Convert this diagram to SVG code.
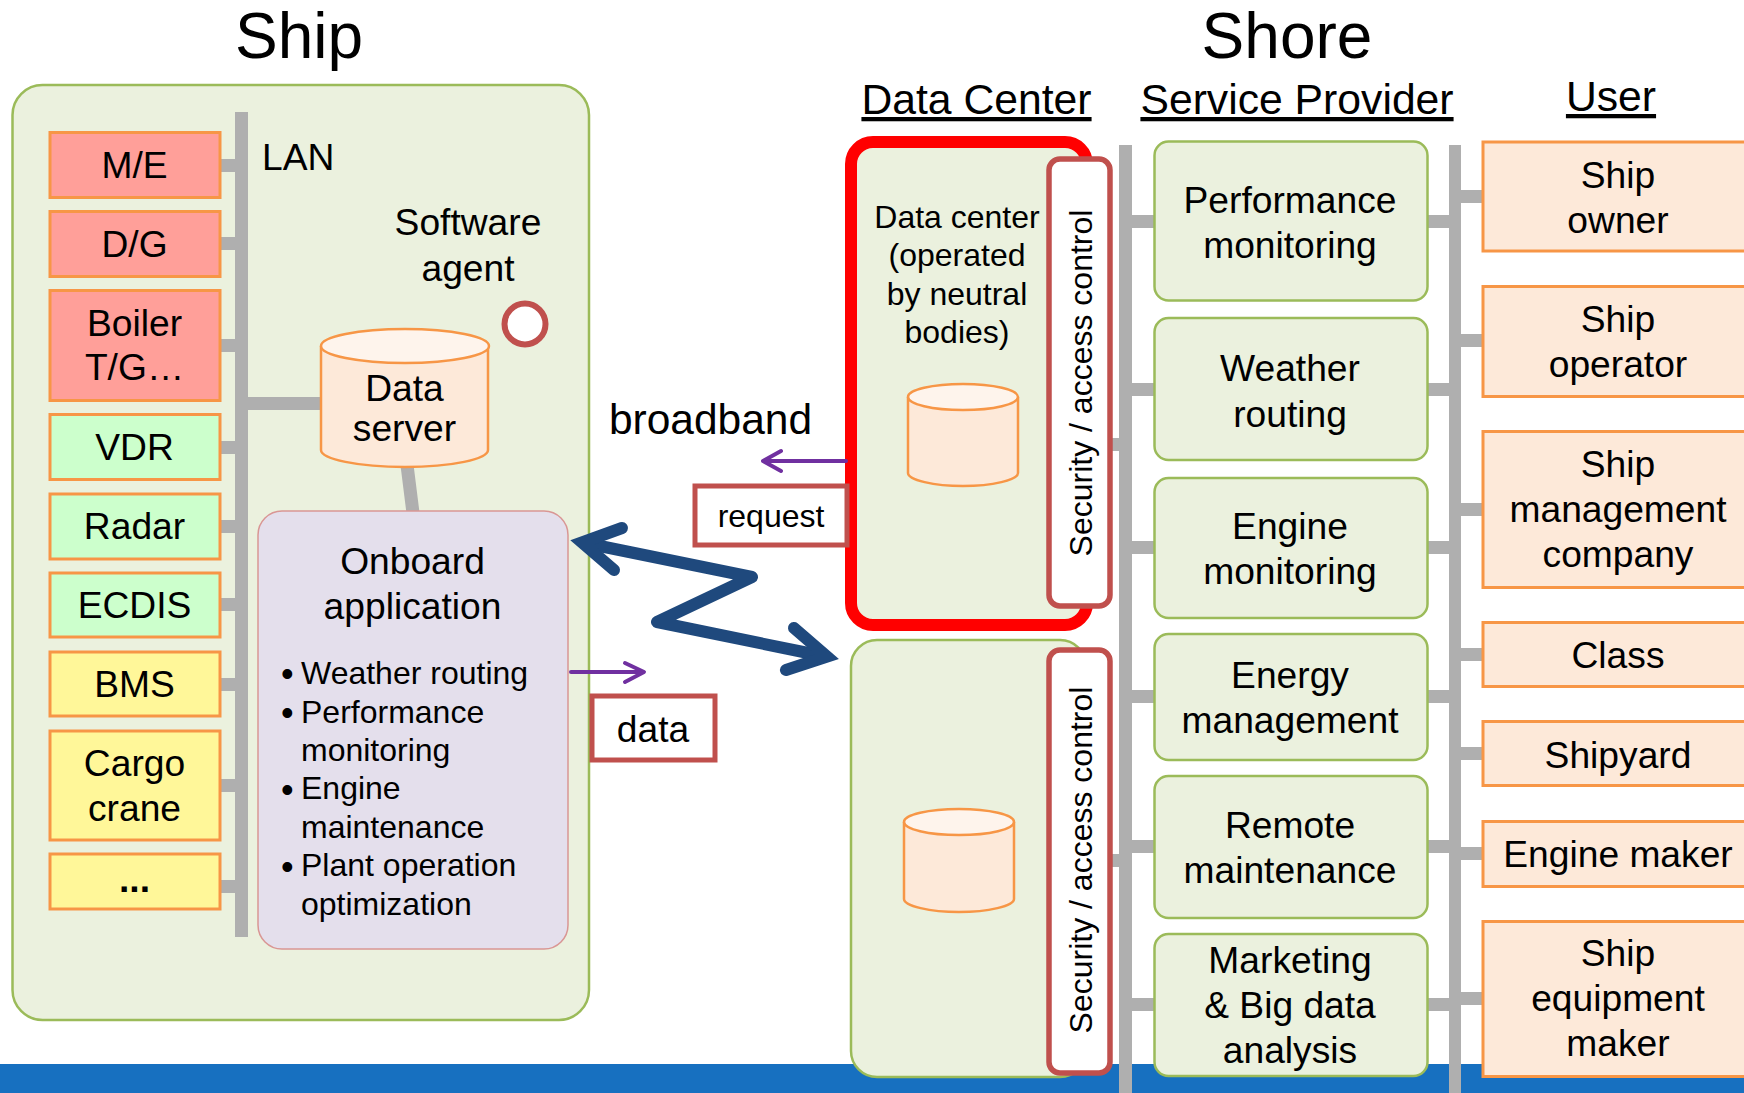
<svg xmlns="http://www.w3.org/2000/svg" width="1744" height="1093" viewBox="0 0 1744 1093">
<style>
text{font-family:"Liberation Sans",Arial,sans-serif;fill:#000;text-anchor:middle}
.t37{font-size:37.2px}.t32{font-size:32px}.h42{font-size:42.7px;text-decoration:underline}.big{font-size:64px}
.s{text-anchor:start}
.dot{font-size:36px}
.box{stroke:#f79646;stroke-width:3}
.red{fill:#ff9f99}.grn{fill:#ccffcc}.yel{fill:#fff799}.usr{fill:#fde9d9}
.svc{fill:#ebf1de;stroke:#9bbb59;stroke-width:2.5}
.sec{fill:#fff;stroke:#c0504d;stroke-width:5.5}
.lab{fill:#fff;stroke:#c0504d;stroke-width:5}
.bus{fill:#afafaf}
.cyl{fill:#fde9d9;stroke:#f79646;stroke-width:2.5}
.cyt{fill:#fef4ec;stroke:#f79646;stroke-width:2.5}
.pur{fill:none;stroke:#7030a0;stroke-width:4;stroke-linecap:round;stroke-linejoin:round}
.zig{fill:none;stroke:#1f497d;stroke-width:12;stroke-linecap:round;stroke-linejoin:round}
.hd{fill:none;stroke:#1f497d;stroke-width:12;stroke-linecap:round;stroke-linejoin:miter;stroke-miterlimit:6}
</style>
<rect x="0" y="1064" width="1744" height="29" fill="#1770c0"/>
<text class="big" x="299" y="58">Ship</text>
<text class="big" x="1287" y="58">Shore</text>
<text class="h42" x="976.500" y="114">Data Center</text>
<text class="h42" x="1297" y="114">Service Provider</text>
<text class="h42" x="1611" y="111">User</text>
<g id="ship"><rect class="svc" x="12.500" y="85" width="576.500" height="935" rx="30"/></g>
<g id="connectors">
<rect class="bus" x="235" y="112" width="13" height="825"/>
<rect class="bus" x="220" y="159" width="16" height="13"/>
<rect class="bus" x="220" y="237" width="16" height="13"/>
<rect class="bus" x="220" y="339" width="16" height="13"/>
<rect class="bus" x="220" y="441" width="16" height="13"/>
<rect class="bus" x="220" y="520" width="16" height="13"/>
<rect class="bus" x="220" y="598" width="16" height="13"/>
<rect class="bus" x="220" y="678" width="16" height="13"/>
<rect class="bus" x="220" y="779" width="16" height="13"/>
<rect class="bus" x="220" y="880" width="16" height="13"/>
<rect class="bus" x="247" y="397" width="75" height="13"/>
<path d="M407 465L413 513" stroke="#afafaf" stroke-width="13" fill="none"/>
<rect class="bus" x="1119" y="145" width="13" height="948"/>
<rect class="bus" x="1449" y="145" width="12" height="948"/>
<rect class="bus" x="1131" y="215" width="24" height="13"/>
<rect class="bus" x="1131" y="383" width="24" height="13"/>
<rect class="bus" x="1131" y="541" width="24" height="13"/>
<rect class="bus" x="1131" y="690" width="24" height="13"/>
<rect class="bus" x="1131" y="840" width="24" height="13"/>
<rect class="bus" x="1131" y="998" width="24" height="13"/>
<rect class="bus" x="1427" y="215" width="23" height="13"/>
<rect class="bus" x="1427" y="383" width="23" height="13"/>
<rect class="bus" x="1427" y="541" width="23" height="13"/>
<rect class="bus" x="1427" y="690" width="23" height="13"/>
<rect class="bus" x="1427" y="840" width="23" height="13"/>
<rect class="bus" x="1427" y="998" width="23" height="13"/>
<rect class="bus" x="1460" y="190" width="23" height="13"/>
<rect class="bus" x="1460" y="334" width="23" height="13"/>
<rect class="bus" x="1460" y="503" width="23" height="13"/>
<rect class="bus" x="1460" y="648" width="23" height="13"/>
<rect class="bus" x="1460" y="747" width="23" height="13"/>
<rect class="bus" x="1460" y="847" width="23" height="13"/>
<rect class="bus" x="1460" y="992" width="23" height="13"/>
<rect class="bus" x="1017" y="438" width="32" height="13"/>
<rect class="bus" x="1108" y="438" width="12" height="13"/>
<rect class="bus" x="1013" y="854" width="36" height="13"/>
<rect class="bus" x="1108" y="854" width="12" height="13"/>
</g>
<g id="me"><rect class="box red" x="50" y="132.500" width="170" height="65"/><text class="t37" x="134.500" y="178">M/E</text></g>
<g id="dg"><rect class="box red" x="50" y="211.500" width="170" height="65"/><text class="t37" x="134.500" y="257">D/G</text></g>
<g id="boiler"><rect class="box red" x="50" y="290.500" width="170" height="110"/><text class="t37" x="134.500" y="336">Boiler</text><text class="t37" x="134.500" y="380">T/G…</text></g>
<g id="vdr"><rect class="box grn" x="50" y="414.500" width="170" height="65"/><text class="t37" x="134.500" y="460">VDR</text></g>
<g id="radar"><rect class="box grn" x="50" y="494" width="170" height="65"/><text class="t37" x="134.500" y="539">Radar</text></g>
<g id="ecdis"><rect class="box grn" x="50" y="573" width="170" height="64"/><text class="t37" x="134.500" y="618">ECDIS</text></g>
<g id="bms"><rect class="box yel" x="50" y="652" width="170" height="64"/><text class="t37" x="134.500" y="697">BMS</text></g>
<g id="cargo"><rect class="box yel" x="50" y="731" width="170" height="109"/><text class="t37" x="134.500" y="776">Cargo</text><text class="t37" x="134.500" y="821">crane</text></g>
<g id="more"><rect class="box yel" x="50" y="854" width="170" height="55"/><text class="t37" x="134.500" y="892" font-weight="bold">...</text></g>
<text class="t37 s" x="262" y="170">LAN</text>
<g id="agent"><text class="t37" x="468" y="235">Software</text><text class="t37" x="468" y="281">agent</text><circle cx="525" cy="324" r="20.500" fill="#fff" stroke="#c0504d" stroke-width="6"/></g>
<g id="dataserver"><path class="cyl" d="M321 346V450C321 459 358 467 405 467S488 459 488 450V346"/><ellipse class="cyt" cx="405" cy="346" rx="84" ry="17"/><text class="t37" x="404.500" y="401">Data</text><text class="t37" x="404.500" y="441">server</text></g>
<g id="onboard"><rect x="258" y="511" width="310" height="438" rx="24" fill="#e4dfec" stroke="#d99694" stroke-width="1.500"/>
<text class="t37" x="412.500" y="574">Onboard</text><text class="t37" x="412.500" y="619">application</text>
<text class="dot s" x="281" y="686">•</text><text class="t32 s" x="301" y="684">Weather routing</text>
<text class="dot s" x="281" y="725">•</text><text class="t32 s" x="301" y="723">Performance</text>
<text class="t32 s" x="301" y="761">monitoring</text>
<text class="dot s" x="281" y="802">•</text><text class="t32 s" x="301" y="799">Engine</text>
<text class="t32 s" x="301" y="838">maintenance</text>
<text class="dot s" x="281" y="879">•</text><text class="t32 s" x="301" y="876">Plant operation</text>
<text class="t32 s" x="301" y="915">optimization</text></g>
<g id="dc1"><rect x="851" y="142" width="236" height="483" rx="22" fill="#ebf1de" stroke="#ff0000" stroke-width="12"/>
<text class="t32" x="957" y="228">Data center</text><text class="t32" x="957" y="266">(operated</text><text class="t32" x="957" y="305">by neutral</text><text class="t32" x="957" y="343">bodies)</text>
<path class="cyl" d="M908 397V473C908 480 934 486 963 486S1018 480 1018 473V397"/><ellipse class="cyt" cx="963" cy="397" rx="55" ry="13"/></g>
<g id="sec1"><rect class="sec" x="1049" y="159" width="61" height="447" rx="11"/><text class="t32" transform="translate(1092 383) rotate(-90)">Security / access control</text></g>
<g id="dc2"><rect class="svc" x="851" y="640" width="235" height="437" rx="26"/>
<path class="cyl" d="M904 822V899C904 906 930 912 959 912S1014 906 1014 899V822"/><ellipse class="cyt" cx="959" cy="822" rx="55" ry="13"/></g>
<g id="sec2"><rect class="sec" x="1049" y="650" width="61" height="423" rx="11"/><text class="t32" transform="translate(1092 860) rotate(-90)">Security / access control</text></g>
<g id="perf"><rect class="svc" x="1154.500" y="141.500" width="273" height="159" rx="14"/><text class="t37" x="1290" y="213">Performance</text><text class="t37" x="1290" y="258">monitoring</text></g>
<g id="weather"><rect class="svc" x="1154.500" y="318" width="273" height="142" rx="14"/><text class="t37" x="1290" y="381">Weather</text><text class="t37" x="1290" y="427">routing</text></g>
<g id="engine"><rect class="svc" x="1154.500" y="478" width="273" height="140" rx="14"/><text class="t37" x="1290" y="539">Engine</text><text class="t37" x="1290" y="584">monitoring</text></g>
<g id="energy"><rect class="svc" x="1154.500" y="634" width="273" height="126" rx="14"/><text class="t37" x="1290" y="688">Energy</text><text class="t37" x="1290" y="733">management</text></g>
<g id="remote"><rect class="svc" x="1154.500" y="776" width="273" height="142" rx="14"/><text class="t37" x="1290" y="838">Remote</text><text class="t37" x="1290" y="883">maintenance</text></g>
<g id="marketing"><rect class="svc" x="1154.500" y="934" width="273" height="142" rx="14"/><text class="t37" x="1290" y="973">Marketing</text><text class="t37" x="1290" y="1018">&amp; Big data</text><text class="t37" x="1290" y="1063">analysis</text></g>
<g id="u1"><rect class="box usr" x="1483" y="142" width="270" height="109"/><text class="t37" x="1618" y="188">Ship</text><text class="t37" x="1618" y="233">owner</text></g>
<g id="u2"><rect class="box usr" x="1483" y="286.500" width="270" height="110"/><text class="t37" x="1618" y="332">Ship</text><text class="t37" x="1618" y="377">operator</text></g>
<g id="u3"><rect class="box usr" x="1483" y="431.500" width="270" height="156"/><text class="t37" x="1618" y="477">Ship</text><text class="t37" x="1618" y="522">management</text><text class="t37" x="1618" y="567">company</text></g>
<g id="u4"><rect class="box usr" x="1483" y="622.500" width="270" height="64"/><text class="t37" x="1618" y="668">Class</text></g>
<g id="u5"><rect class="box usr" x="1483" y="721.500" width="270" height="64"/><text class="t37" x="1618" y="768">Shipyard</text></g>
<g id="u6"><rect class="box usr" x="1483" y="821.500" width="270" height="65"/><text class="t37" x="1618" y="867">Engine maker</text></g>
<g id="u7"><rect class="box usr" x="1483" y="921.500" width="270" height="155"/><text class="t37" x="1618" y="966">Ship</text><text class="t37" x="1618" y="1011">equipment</text><text class="t37" x="1618" y="1056">maker</text></g>
<g id="flows">
<path class="pur" d="M846 461H763M781 451L763 461L781 471"/>
<path class="pur" d="M571 672H643M625 663L644 672L625 682"/>
<path class="zig" d="M585 543L752 577L657 622L823 656"/>
<path class="hd" d="M622 528L582 542.500L614 570"/>
<path class="hd" d="M794 628L827 656.500L786 670"/>
</g>
<g id="broadband"><text x="710.500" y="434" font-size="42.500px">broadband</text></g>
<g id="request"><rect class="lab" x="695" y="486" width="152" height="59"/><text class="t32" x="771" y="527">request</text></g>
<g id="data"><rect class="lab" x="592" y="696" width="123" height="64"/><text class="t37" x="653" y="742">data</text></g>
</svg>
